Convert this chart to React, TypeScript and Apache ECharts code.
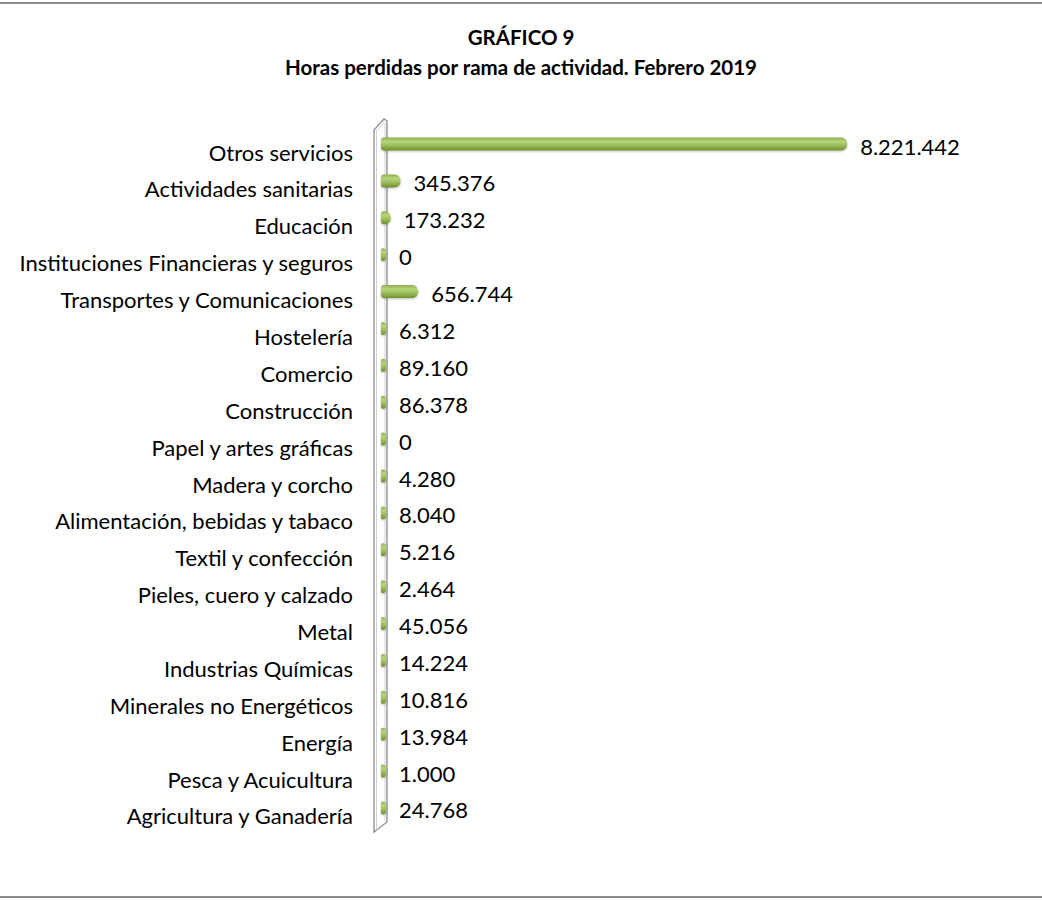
import React, { useEffect, useRef } from "react";
import * as echarts from "echarts";

const titleLines = ["GRÁFICO 9", "Horas perdidas por rama de actividad. Febrero 2019"];

// bottom -> top
const categories = [
  "Agricultura y Ganadería",
  "Pesca y Acuicultura",
  "Energía",
  "Minerales no Energéticos",
  "Industrias Químicas",
  "Metal",
  "Pieles, cuero y calzado",
  "Textil y confección",
  "Alimentación, bebidas y tabaco",
  "Madera y corcho",
  "Papel y artes gráficas",
  "Construcción",
  "Comercio",
  "Hostelería",
  "Transportes y Comunicaciones",
  "Instituciones Financieras y seguros",
  "Educación",
  "Actividades sanitarias",
  "Otros servicios",
];

const hours = [
  24768, 1000, 13984, 10816, 14224, 45056, 2464, 5216, 8040, 4280, 0, 86378,
  89160, 6312, 656744, 0, 173232, 345376, 8221442,
];

const fmt = (v: number) => String(v).replace(/\B(?=(\d{3})+(?!\d))/g, ".");

export default function App() {
  const ref = useRef<HTMLDivElement>(null);
  useEffect(() => {
    if (!ref.current) return;
    const chart = echarts.init(ref.current, undefined, { renderer: "svg" });
    const font = "Lato, 'Noto Sans', sans-serif";
    chart.setOption({
      animation: false,
      backgroundColor: "#ffffff",
      title: {
        text: titleLines.join("\n"),
        left: "center",
        top: 17,
        textStyle: {
          fontFamily: font,
          fontWeight: "bold",
          fontSize: 20.5,
          lineHeight: 30,
          color: "#000",
        },
      },
      grid: { left: 381, right: 94, top: 125.6, bottom: 73.6, containLabel: false },
      xAxis: {
        type: "value",
        min: 0,
        max: 10000000,
        show: false,
        splitLine: { show: false },
      },
      yAxis: {
        type: "category",
        data: categories,
        axisLine: { show: false },
        axisTick: { show: false },
        splitLine: { show: false },
        axisLabel: {
          fontFamily: font,
          fontSize: 22,
          color: "#000",
          margin: 28,
          verticalAlign: "top",
          lineHeight: 16,
        },
      },
      graphic: [
        {
          type: "line",
          shape: { x1: 0, y1: 3, x2: 1042, y2: 3 },
          style: { stroke: "#8c8c8c", lineWidth: 2 },
        },
        {
          type: "line",
          shape: { x1: 0, y1: 897, x2: 1042, y2: 897 },
          style: { stroke: "#8c8c8c", lineWidth: 2 },
        },
        {
          type: "polygon",
          z: 0,
          shape: {
            points: [
              [374, 832],
              [374, 130],
              [384, 119],
              [387, 121],
              [387, 822],
            ],
          },
          style: { fill: "#ffffff", stroke: "#9a9a9a", lineWidth: 1.5 },
        },
        {
          type: "polyline",
          z: 0,
          shape: {
            points: [
              [376.5, 830],
              [376.5, 131],
              [385, 121.5],
            ],
          },
          style: { stroke: "#d0d0d0", lineWidth: 1 },
        },
        {
          type: "line",
          z: 0,
          shape: { x1: 385, y1: 123, x2: 385, y2: 822 },
          style: { stroke: "#d0d0d0", lineWidth: 1 },
        },
      ],
      series: [
        {
          type: "bar",
          z: 5,
          data: hours,
          barWidth: 13,
          barMinHeight: 5,
          itemStyle: {
            borderRadius: [3, 6, 6, 3],
            color: new echarts.graphic.LinearGradient(0, 0, 0, 1, [
              { offset: 0, color: "#8fae4c" },
              { offset: 0.3, color: "#b7d57c" },
              { offset: 0.6, color: "#9ebe5d" },
              { offset: 1, color: "#6e8e30" },
            ]),
            shadowBlur: 2,
            shadowOffsetY: 1,
            shadowColor: "rgba(0,0,0,0.25)",
          },
          label: {
            show: true,
            position: "right",
            distance: 13,
            offset: [0, 2],
            fontFamily: font,
            fontSize: 22,
            color: "#000",
            formatter: (p: any) => fmt(p.value),
          },
        },
      ],
    });
    return () => chart.dispose();
  }, []);
  return (
    <div
      ref={ref}
      style={{ position: "absolute", left: 0, top: 0, width: 1042, height: 900 }}
    />
  );
}
